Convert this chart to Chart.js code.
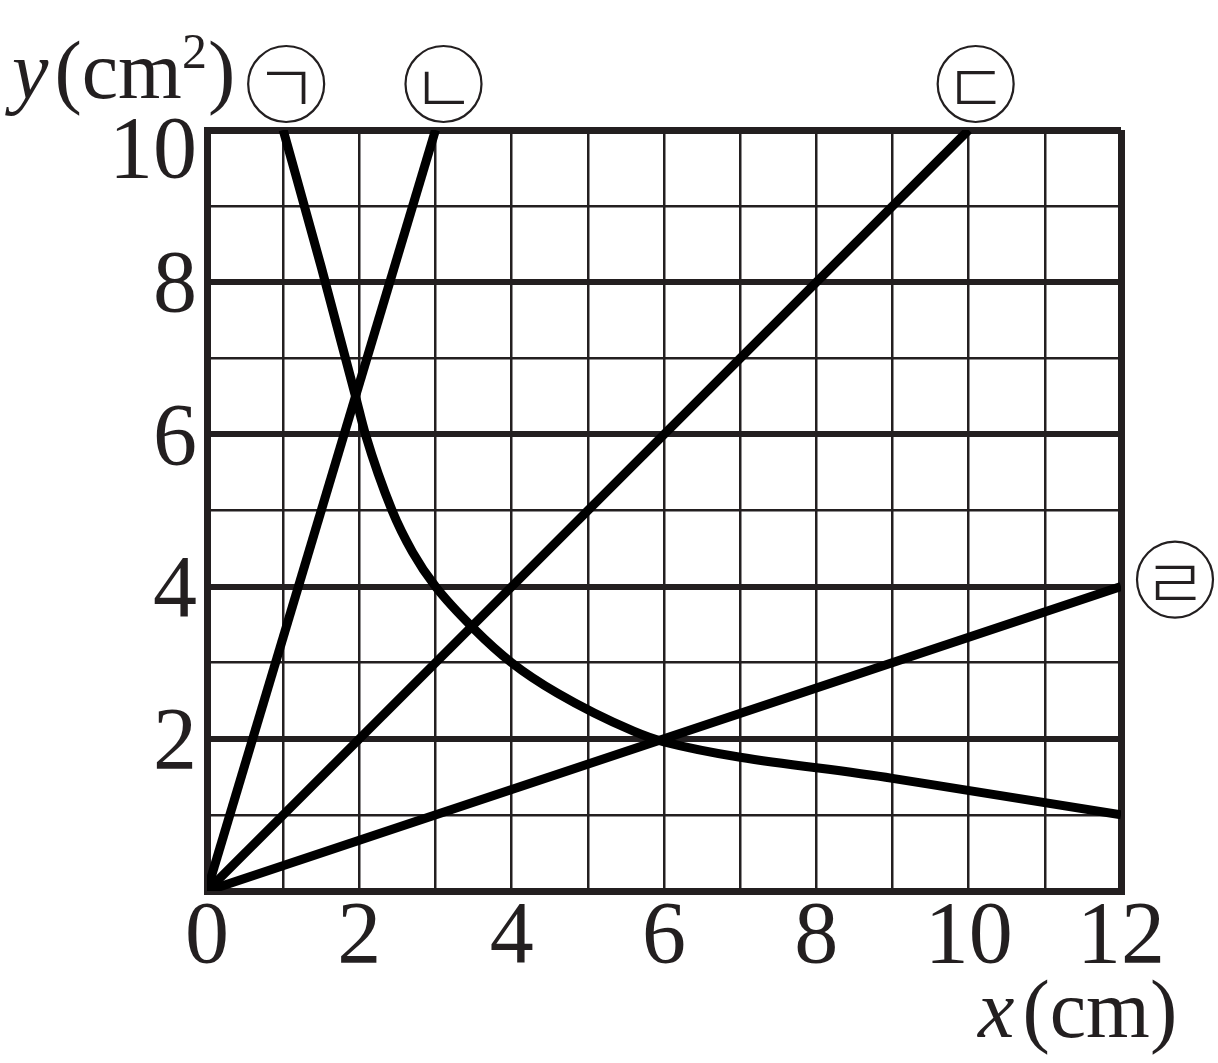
<!DOCTYPE html>
<html>
<head>
<meta charset="utf-8">
<script src="https://cdn.jsdelivr.net/npm/chart.js@4/dist/chart.umd.min.js"></script>
<style>
  html, body { margin: 0; padding: 0; background: #fff; }
  canvas { display: block; }
</style>
</head>
<body>
<canvas id="c" width="1218" height="1063"></canvas>
<script>
// ---- data ----
const seriesNames = ['ㄱ', 'ㄴ', 'ㄷ', 'ㄹ'];
const curveA_x = [1, 1.5, 1.95, 2.08, 2.43, 2.7, 3, 3.5, 4, 4.6, 5.6, 6, 9, 12];
const curveA_y = [10, 8.2, 6.5, 6, 5, 4.45, 4, 3.45, 3, 2.6, 2.1, 1.96, 1.48, 1];
const lineB_x = [0, 3];
const lineB_y = [0, 10];
const lineC_x = [0, 10];
const lineC_y = [0, 10];
const lineD_x = [0, 12];
const lineD_y = [0, 4];
const xTickLabels = ['0', '2', '4', '6', '8', '10', '12'];
const yTickLabels = ['2', '4', '6', '8', '10'];

const toPts = (xs, ys) => xs.map((x, i) => ({ x: x, y: ys[i] }));

const INK = '#231f20';
const SERIF = '"Liberation Serif", "DejaVu Serif", serif';

// circled labels: anchored at a data point, offset in pixels
const labelPlugin = {
  id: 'labels',
  afterDraw(chart) {
    const ctx = chart.ctx;
    const xs = chart.scales.x, ys = chart.scales.y;
    const anchors = [
      { x: curveA_x[0], y: curveA_y[0], dx: 3, dy: -46 },
      { x: lineB_x[1], y: lineB_y[1], dx: 8, dy: -46 },
      { x: lineC_x[1], y: lineC_y[1], dx: 7, dy: -46 },
      { x: lineD_x[1], y: lineD_y[1], dx: 54, dy: -7 }
    ];
    ctx.save();
    anchors.forEach((a, i) => {
      const cx = xs.getPixelForValue(a.x) + a.dx;
      const cy = ys.getPixelForValue(a.y) + a.dy;
      ctx.beginPath();
      ctx.arc(cx, cy, 38, 0, Math.PI * 2);
      ctx.lineWidth = 2.2;
      ctx.strokeStyle = INK;
      ctx.stroke();
      ctx.fillStyle = INK;
      ctx.font = '300 70px "Noto Sans CJK KR"';
      ctx.textAlign = 'center';
      ctx.textBaseline = 'middle';
      ctx.fillText(seriesNames[i], cx, cy + 3);
    });

    // axis titles
    const drawRuns = (x0, base, runs) => {
      let x = x0;
      runs.forEach(r => {
        ctx.font = r.font;
        ctx.textAlign = 'left';
        ctx.textBaseline = 'alphabetic';
        ctx.fillText(r.t, x, base + (r.dy || 0));
        x += ctx.measureText(r.t).width + (r.gap || 0);
      });
    };
    ctx.fillStyle = INK;
    drawRuns(12, 98, [
      { t: 'y', font: 'italic 82px ' + SERIF, gap: 6 },
      { t: '(cm', font: '82px ' + SERIF },
      { t: '2', font: '50px ' + SERIF, dy: -30, gap: 1 },
      { t: ')', font: '82px ' + SERIF }
    ]);
    drawRuns(978, 1037, [
      { t: 'x', font: 'italic 82px ' + SERIF, gap: 8 },
      { t: '(cm)', font: '82px ' + SERIF }
    ]);
    ctx.restore();
  }
};

new Chart(document.getElementById('c'), {
  type: 'line',
  data: {
    datasets: [
      { label: '㉠', data: toPts(curveA_x, curveA_y), cubicInterpolationMode: 'monotone' },
      { label: '㉡', data: toPts(lineB_x, lineB_y) },
      { label: '㉢', data: toPts(lineC_x, lineC_y) },
      { label: '㉣', data: toPts(lineD_x, lineD_y) }
    ].map(d => Object.assign({
      borderColor: '#000',
      borderWidth: 9,
      pointRadius: 0,
      fill: false,
      tension: 0,
      borderCapStyle: 'butt',
      borderJoinStyle: 'round'
    }, d))
  },
  options: {
    responsive: false,
    animation: false,
    layout: { padding: { top: 130, right: 97, left: 0, bottom: 0 } },
    plugins: { legend: { display: false }, tooltip: { enabled: false }, title: { display: false } },
    scales: {
      x: {
        type: 'linear',
        min: 0, max: 12,
        afterFit: s => { s.height = 172; },
        afterBuildTicks: s => { s.ticks = Array.from({ length: 13 }, (_, i) => ({ value: i })); },
        ticks: {
          autoSkip: false, maxRotation: 0, padding: -5,
          color: INK,
          font: { family: SERIF, size: 88 },
          callback: v => xTickLabels.includes(String(v)) ? String(v) : ''
        },
        grid: {
          color: INK,
          drawTicks: false,
          lineWidth: c => (c.tick && (c.tick.value === 0 || c.tick.value === 12)) ? 7 : 2.5
        },
        border: { display: true, width: 7, color: INK }
      },
      y: {
        type: 'linear',
        min: 0, max: 10,
        afterFit: s => { s.width = 207; },
        afterBuildTicks: s => { s.ticks = Array.from({ length: 11 }, (_, i) => ({ value: i })); },
        ticks: {
          autoSkip: false, padding: 10,
          color: INK,
          labelOffset: 6,
          font: c => ({ family: SERIF, size: 88, lineHeight: (c.tick && c.tick.value === 10) ? 0.4 : 1.2 }),
          callback: v => yTickLabels.includes(String(v)) ? (v === 10 ? ['', String(v)] : String(v)) : ''
        },
        grid: {
          color: INK,
          drawTicks: false,
          lineWidth: c => {
            const v = c.tick ? c.tick.value : 1;
            if (v === 0 || v === 10) return 7;
            return v % 2 === 0 ? 6 : 2.5;
          }
        },
        border: { display: true, width: 7, color: INK }
      }
    }
  },
  plugins: [labelPlugin]
});
</script>
</body>
</html>
